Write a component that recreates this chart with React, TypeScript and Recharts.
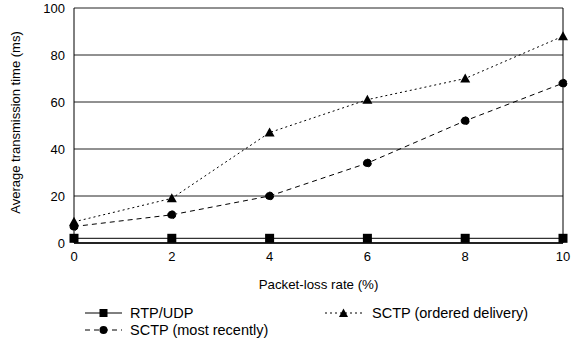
import React from "react";
import {
  LineChart,
  Line,
  XAxis,
  YAxis,
  CartesianGrid,
  Legend,
  Label,
} from "recharts";

const lossRates = [0, 2, 4, 6, 8, 10];
const rtpUdp = [2, 2, 2, 2, 2, 2];
const sctpOrdered = [9, 19, 47, 61, 70, 88];
const sctpRecent = [7, 12, 20, 34, 52, 68];

const xTicks = [0, 2, 4, 6, 8, 10];
const yTicks = [0, 20, 40, 60, 80, 100];
const yMinorTicks = [10, 30, 50, 70, 90];

const data = lossRates.map((rate, i) => ({
  rate,
  rtp: rtpUdp[i],
  ordered: sctpOrdered[i],
  recent: sctpRecent[i],
}));

const FONT = "'Liberation Sans', Arial, sans-serif";

const squareDot = (props: any) => {
  const { cx, cy, index } = props;
  return <rect key={"sq" + index} x={cx - 4.5} y={cy - 4.5} width={9} height={9} fill="#000" />;
};

const triangleDot = (props: any) => {
  const { cx, cy, index } = props;
  return (
    <polygon
      key={"tr" + index}
      points={`${cx},${cy - 5} ${cx - 5},${cy + 4} ${cx + 5},${cy + 4}`}
      fill="#000"
    />
  );
};

const LegendIcon = ({ kind }: { kind: string }) => {
  const dash = kind === "rtp" ? undefined : kind === "ordered" ? "2 3" : "5 4";
  const w = 37;
  const c = w / 2;
  return (
    <svg width={w} height={12} style={{ verticalAlign: "-1px" }}>
      <line x1={0} y1={6} x2={w} y2={6} stroke="#000" strokeDasharray={dash} />
      {kind === "rtp" && <rect x={c - 4} y={2} width={8} height={8} fill="#000" />}
      {kind === "recent" && <circle cx={c} cy={6} r={4} fill="#000" />}
      {kind === "ordered" && (
        <polygon points={`${c},1.5 ${c - 4.5},10 ${c + 4.5},10`} fill="#000" />
      )}
    </svg>
  );
};

const renderLegend = () => (
  <div
    style={{
      fontFamily: FONT,
      fontSize: 14.5,
      color: "#000",
      display: "grid",
      gridTemplateColumns: "240px auto",
      paddingLeft: 85,
      paddingTop: 10,
      lineHeight: "17px",
    }}
  >
    <div>
      <LegendIcon kind="rtp" />
      <span style={{ marginLeft: 8 }}>RTP/UDP</span>
    </div>
    <div>
      <LegendIcon kind="ordered" />
      <span style={{ marginLeft: 10 }}>SCTP (ordered delivery)</span>
    </div>
    <div>
      <LegendIcon kind="recent" />
      <span style={{ marginLeft: 8 }}>SCTP (most recently)</span>
    </div>
  </div>
);

const yLabel = (props: any) => {
  const { viewBox } = props;
  const x = viewBox.x + 15;
  const y = viewBox.y + viewBox.height / 2 - 3;
  return (
    <text
      x={x}
      y={y}
      transform={`rotate(-90, ${x}, ${y})`}
      textAnchor="middle"
      dominantBaseline="central"
      fill="#000"
      fontSize={13}
      fontFamily={FONT}
    >
      Average transmission time (ms)
    </text>
  );
};

export default function App() {
  return (
    <div style={{ position: "absolute", left: 0, top: 0, background: "#fff" }}>
      <LineChart
        width={574}
        height={344}
        data={data}
        margin={{ top: 8, right: 11, bottom: 5, left: 0 }}
      >
        <CartesianGrid yAxisId="left" vertical={false} stroke="#222" />
        <XAxis
          dataKey="rate"
          type="number"
          domain={[0, 10]}
          ticks={xTicks}
          axisLine={{ stroke: "#000", strokeWidth: 1.5 }}
          tickLine={false}
          tickSize={0}
          tickMargin={9}
          height={52}
          tick={{ fill: "#000", fontSize: 13, fontFamily: FONT }}
          label={{
            value: "Packet-loss rate (%)",
            position: "insideBottom",
            offset: 6,
            fill: "#000",
            fontSize: 13.3,
            fontFamily: FONT,
          }}
        />
        <YAxis
          yAxisId="left"
          domain={[0, 100]}
          ticks={yTicks}
          width={74}
          axisLine={{ stroke: "#000" }}
          tickLine={false}
          tickSize={0}
          tickMargin={9}
          tick={{ fill: "#000", fontSize: 13, fontFamily: FONT }}
        >
          <Label content={yLabel} />
        </YAxis>
        <YAxis
          yAxisId="minorLeft"
          orientation="left"
          mirror
          domain={[0, 100]}
          ticks={yMinorTicks}
          width={10}
          axisLine={false}
          tick={false}
          tickSize={4}
          tickLine={{ stroke: "#000" }}
        />
        <YAxis
          yAxisId="right"
          orientation="right"
          mirror
          domain={[0, 100]}
          ticks={yMinorTicks}
          width={10}
          axisLine={{ stroke: "#000" }}
          tick={false}
          tickSize={4}
          tickLine={{ stroke: "#000" }}
        />
        <Legend verticalAlign="bottom" height={44} content={renderLegend} />
        <Line
          yAxisId="left"
          dataKey="rtp"
          type="linear"
          stroke="#000"
          strokeWidth={1}
          dot={squareDot}
          isAnimationActive={false}
        />
        <Line
          yAxisId="left"
          dataKey="ordered"
          type="linear"
          stroke="#000"
          strokeWidth={1}
          strokeDasharray="2 3"
          dot={triangleDot}
          isAnimationActive={false}
        />
        <Line
          yAxisId="left"
          dataKey="recent"
          type="linear"
          stroke="#000"
          strokeWidth={1}
          strokeDasharray="5 4"
          dot={{ r: 4, fill: "#000", stroke: "#000" }}
          isAnimationActive={false}
        />
      </LineChart>
    </div>
  );
}
